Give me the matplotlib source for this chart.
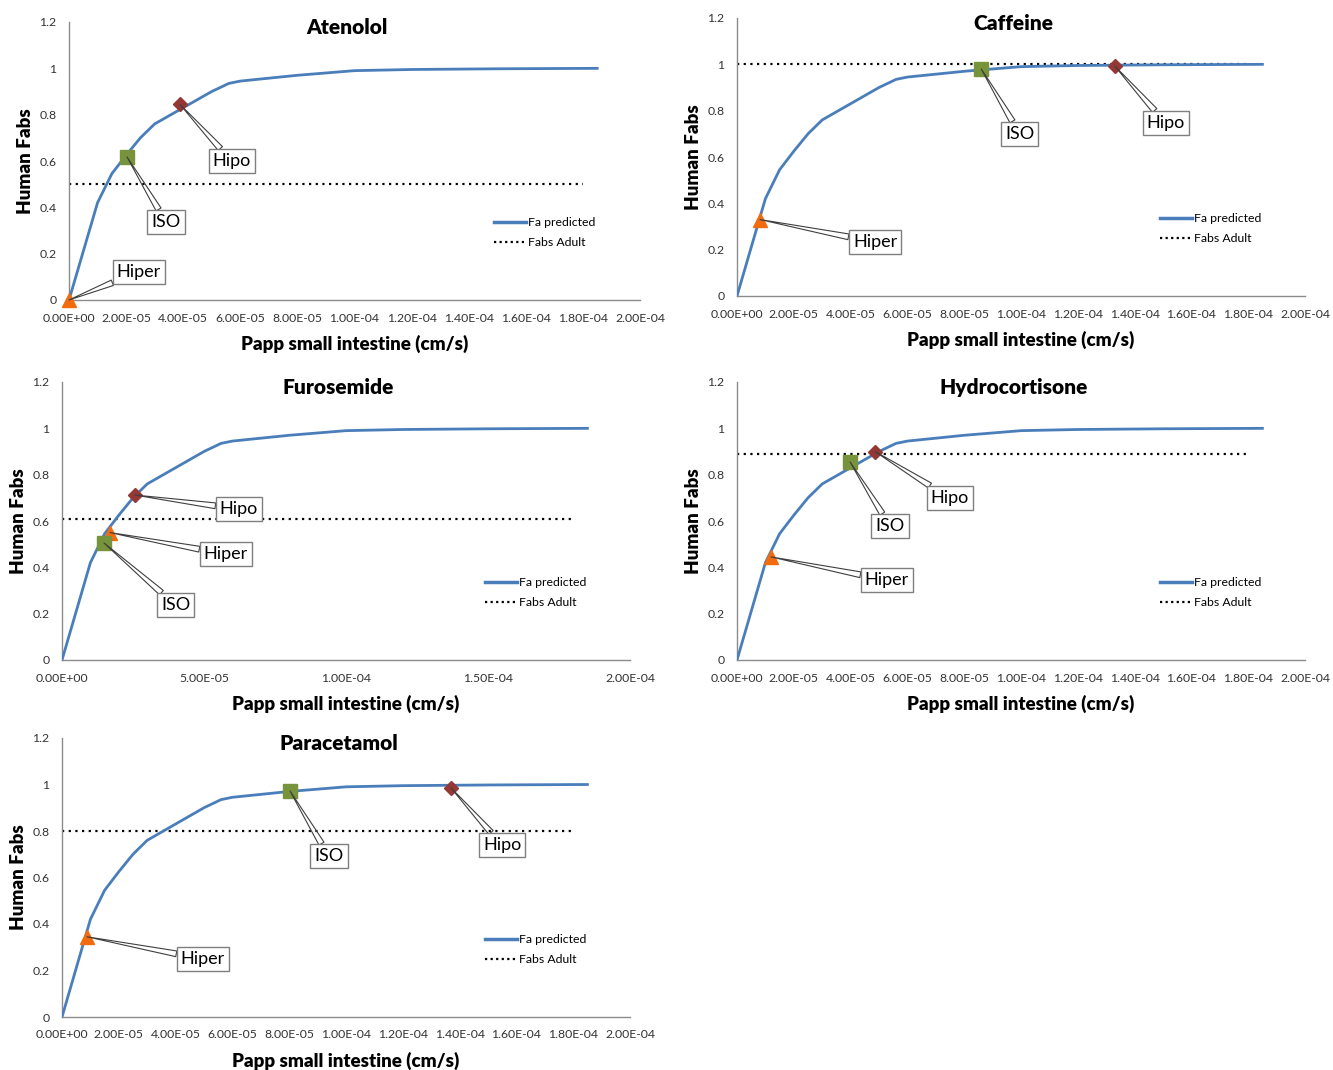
import matplotlib
matplotlib.use('Agg')
import matplotlib.pyplot as plt
from matplotlib.lines import Line2D

plt.rcParams['font.family'] = ['Lato', 'DejaVu Sans']

# ---- data ----
papp = [0, 1.0e-5, 1.5e-5, 2.0e-5, 2.5e-5, 3.0e-5, 4.0e-5, 5.0e-5, 5.6e-5,
        6.0e-5, 8.0e-5, 1.0e-4, 1.2e-4, 1.5e-4, 1.85e-4]
fa_pred = [0, 0.42, 0.545, 0.625, 0.70, 0.76, 0.83, 0.90, 0.935,
           0.945, 0.97, 0.99, 0.995, 0.998, 1.0]

drugs = ['Atenolol', 'Caffeine', 'Furosemide', 'Hydrocortisone', 'Paracetamol']
fabs_adult = [0.50, 1.00, 0.61, 0.89, 0.80]
adult_x = [0, 1.8e-4]

hiper_x = [0.0, 0.81e-5, 1.69e-5, 1.2e-5, 0.88e-5]
hiper_y = [0.0, 0.33, 0.55, 0.445, 0.345]
iso_x = [2.03e-5, 8.6e-5, 1.48e-5, 3.98e-5, 8.03e-5]
iso_y = [0.618, 0.98, 0.505, 0.855, 0.972]
hipo_x = [3.89e-5, 1.33e-4, 2.57e-5, 4.86e-5, 1.37e-4]
hipo_y = [0.844, 0.993, 0.712, 0.90, 0.985]

yticks = [0, 0.2, 0.4, 0.6, 0.8, 1.0, 1.2]
ytick_labels = ['0', '0.2', '0.4', '0.6', '0.8', '1', '1.2']
xticks_a = [0, 2e-5, 4e-5, 6e-5, 8e-5, 1e-4, 1.2e-4, 1.4e-4, 1.6e-4, 1.8e-4, 2e-4]
xtick_labels_a = ['0.00E+00', '2.00E-05', '4.00E-05', '6.00E-05', '8.00E-05', '1.00E-04',
                  '1.20E-04', '1.40E-04', '1.60E-04', '1.80E-04', '2.00E-04']
xticks_b = [0, 5e-5, 1e-4, 1.5e-4, 2e-4]
xtick_labels_b = ['0.00E+00', '5.00E-05', '1.00E-04', '1.50E-04', '2.00E-04']

# ---- layout (callout text positions, axes rects) ----
callout_pos = [
    {'Hiper': (2.45e-5, 0.12), 'ISO': (3.4e-5, 0.337), 'Hipo': (5.7e-5, 0.60)},
    {'Hiper': (4.86e-5, 0.233), 'ISO': (9.96e-5, 0.70), 'Hipo': (1.51e-4, 0.747)},
    {'Hiper': (5.77e-5, 0.457), 'ISO': (4.01e-5, 0.237), 'Hipo': (6.23e-5, 0.652)},
    {'Hiper': (5.28e-5, 0.345), 'ISO': (5.39e-5, 0.578), 'Hipo': (7.5e-5, 0.699)},
    {'Hiper': (4.96e-5, 0.25), 'ISO': (9.4e-5, 0.692), 'Hipo': (1.55e-4, 0.74)},
]
W, H = 1333, 1070
rects = [
    (69 / W, 1 - 300 / H, 571 / W, 278 / H),
    (737 / W, 1 - 296 / H, 568 / W, 278 / H),
    (62 / W, 1 - 660 / H, 568 / W, 278 / H),
    (737 / W, 1 - 660 / H, 568 / W, 278 / H),
    (62 / W, 1 - 1017 / H, 568 / W, 279 / H),
]

BLUE = '#4A7EBB'
ORANGE = '#F26B0F'
GREEN = '#77933C'
RED = '#953735'
AXC = '#8C8C8C'

fig = plt.figure(figsize=(W / 100, H / 100), dpi=100)

for i, name in enumerate(drugs):
    ax = fig.add_axes(rects[i])
    ax.plot(papp, fa_pred, color=BLUE, lw=2.0, zorder=3, label='Fa predicted')
    ax.plot(adult_x, [fabs_adult[i]] * 2, color='black', lw=1.6,
            linestyle=(0, (1, 2)), zorder=2, label='Fabs Adult')
    ax.plot(hiper_x[i], hiper_y[i], marker='^', ms=10, color=ORANGE, zorder=4, clip_on=False)
    ax.plot(iso_x[i], iso_y[i], marker='s', ms=10, color=GREEN, zorder=4, clip_on=False)
    ax.plot(hipo_x[i], hipo_y[i], marker='D', ms=7.5, color=RED, zorder=4, clip_on=False)

    pts = {'Hiper': (hiper_x[i], hiper_y[i]), 'ISO': (iso_x[i], iso_y[i]),
           'Hipo': (hipo_x[i], hipo_y[i])}
    for lab in ['Hiper', 'ISO', 'Hipo']:
        ax.annotate(lab, xy=pts[lab], xytext=callout_pos[i][lab],
                    ha='center', va='center', fontsize=13, zorder=6,
                    bbox=dict(boxstyle='square,pad=0.22', fc='white', ec='#7F7F7F', lw=1.0),
                    arrowprops=dict(arrowstyle='wedge,tail_width=0.32,shrink_factor=0.5',
                                    fc='none', ec='#3F3F3F', lw=0.8,
                                    shrinkA=0, shrinkB=0))

    ax.set_xlim(0, 2e-4)
    ax.set_ylim(0, 1.2)
    ax.set_yticks(yticks)
    ax.set_yticklabels(ytick_labels)
    if name == 'Furosemide':
        ax.set_xticks(xticks_b)
        ax.set_xticklabels(xtick_labels_b)
    else:
        ax.set_xticks(xticks_a)
        ax.set_xticklabels(xtick_labels_a)
    ax.tick_params(axis='both', length=0, labelsize=8.8, colors='#333333')
    ax.tick_params(axis='x', pad=9)
    ax.tick_params(axis='y', pad=9)
    for s in ['top', 'right']:
        ax.spines[s].set_visible(False)
    for s in ['left', 'bottom']:
        ax.spines[s].set_color(AXC)
        ax.spines[s].set_linewidth(1.0)

    ax.set_xlabel('Papp small intestine (cm/s)', fontsize=13.5, fontweight='heavy', labelpad=8)
    ax.set_ylabel('Human Fabs', fontsize=13.5, fontweight='heavy', labelpad=4)
    ax.text(0.487, 0.982, name, transform=ax.transAxes, ha='center', va='center',
            fontsize=15, fontweight='heavy')

    handles = [Line2D([], [], color=BLUE, lw=2.5),
               Line2D([], [], color='black', lw=1.6, linestyle=(0, (1, 1.5)))]
    ax.legend(handles, ['Fa predicted', 'Fabs Adult'], loc='center left',
              bbox_to_anchor=(0.745, 0.242), frameon=False, fontsize=8.8,
              handlelength=2.6, handletextpad=0.15, labelspacing=0.75, borderpad=0,
              borderaxespad=0)

fig.savefig('out.png', dpi=100)
